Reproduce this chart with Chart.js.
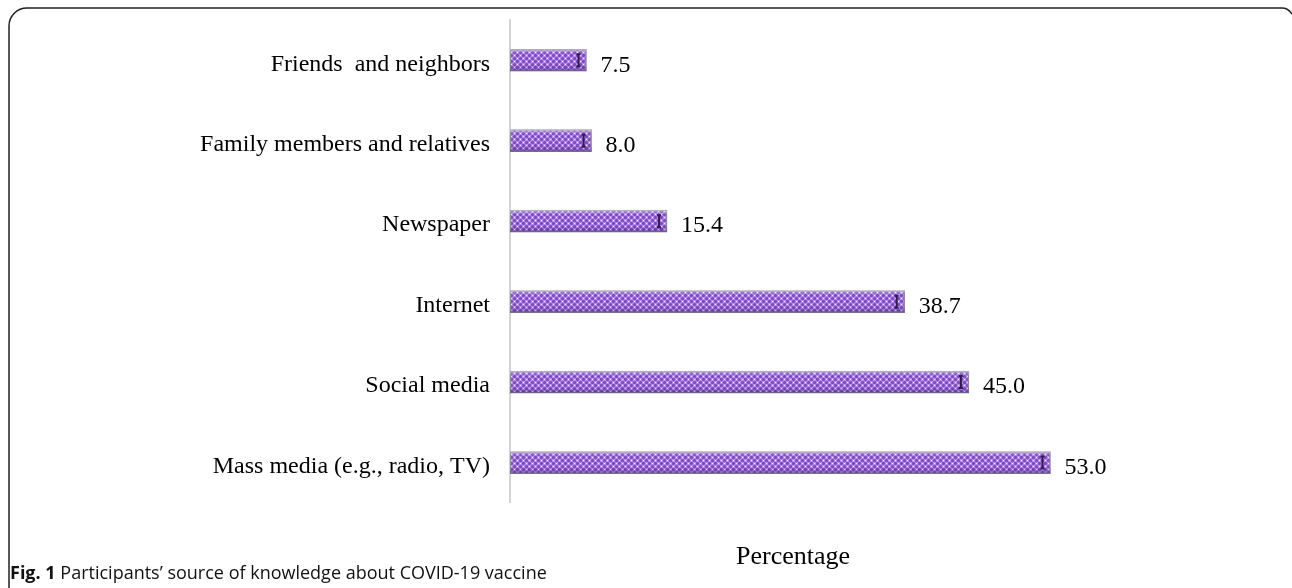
<!DOCTYPE html>
<html>
<head>
<meta charset="utf-8">
<script src="https://cdn.jsdelivr.net/npm/chart.js@4.4.1/dist/chart.umd.min.js"></script>
<style>
  html, body { margin: 0; padding: 0; background: #fff; }
  #wrap { position: relative; width: 1292px; height: 588px; }
  #caption {
    position: absolute; left: 10px; top: 560px;
    font-family: "Open Sans", "Noto Sans", sans-serif; font-size: 18px; color: #111;
    white-space: nowrap;
  }
</style>
</head>
<body>
<div id="wrap">
  <canvas id="chart" width="1292" height="588"></canvas>
  <div id="caption"><b>Fig. 1</b> Participants’ source of knowledge about COVID-19 vaccine</div>
</div>
<script>
// source of knowledge, top to bottom as drawn
const sources = [
  'Friends  and neighbors',
  'Family members and relatives',
  'Newspaper',
  'Internet',
  'Social media',
  'Mass media (e.g., radio, TV)'
];
const percentages = [7.5, 8.0, 15.4, 38.7, 45.0, 53.0];
const axisTitle = 'Percentage';

// little checkered purple fill like the original bevelled bars
function makePattern() {
  const c = document.createElement('canvas');
  c.width = 6; c.height = 6;
  const g = c.getContext('2d');
  g.fillStyle = '#b48ee3';
  g.fillRect(0, 0, 6, 6);
  g.fillStyle = '#7f48c8';
  g.beginPath(); g.arc(1.5, 1.5, 1.6, 0, Math.PI * 2); g.fill();
  g.beginPath(); g.arc(4.5, 4.5, 1.6, 0, Math.PI * 2); g.fill();
  g.fillStyle = '#f5eefc';
  g.fillRect(4, 1, 1, 1);
  g.fillRect(1, 4, 1, 1);
  return g.createPattern(c, 'repeat');
}

const serif = '"Liberation Serif", "Times New Roman", serif';

const framePlugin = {
  id: 'frame',
  beforeDraw(chart) {
    const ctx = chart.ctx;
    ctx.save();
    ctx.strokeStyle = '#222';
    ctx.lineWidth = 1.5;
    ctx.beginPath();
    ctx.moveTo(9, 588);
    ctx.lineTo(9, 26);
    ctx.arcTo(9, 8, 27, 8, 18);
    ctx.lineTo(1282, 8);
    ctx.quadraticCurveTo(1288, 8, 1292, 14);
    ctx.stroke();
    ctx.restore();
  }
};

const labelPlugin = {
  id: 'barLabels',
  afterDatasetsDraw(chart) {
    const ctx = chart.ctx;
    const meta = chart.getDatasetMeta(0);
    ctx.save();
    meta.data.forEach((bar, i) => {
      // bevel shading on top of pattern
      const top = bar.y - bar.height / 2;
      const grad = ctx.createLinearGradient(0, top, 0, top + bar.height);
      grad.addColorStop(0, 'rgba(255,255,255,0.4)');
      grad.addColorStop(0.2, 'rgba(255,255,255,0)');
      grad.addColorStop(0.7, 'rgba(60,20,110,0)');
      grad.addColorStop(1, 'rgba(60,20,110,0.4)');
      ctx.fillStyle = grad;
      ctx.fillRect(bar.base, top, bar.x - bar.base, bar.height);
      // small dark marker near the bar end
      ctx.strokeStyle = '#2e1f48';
      ctx.lineWidth = 2;
      const mx = bar.x - 8;
      ctx.beginPath();
      ctx.moveTo(mx, bar.y - 6); ctx.lineTo(mx, bar.y + 6);
      ctx.moveTo(mx - 2, bar.y - 6); ctx.lineTo(mx + 2, bar.y - 6);
      ctx.moveTo(mx - 2, bar.y + 6); ctx.lineTo(mx + 2, bar.y + 6);
      ctx.stroke();
      // value label
      ctx.fillStyle = '#000';
      ctx.font = '24px ' + serif;
      ctx.textAlign = 'left';
      ctx.textBaseline = 'middle';
      ctx.fillText(percentages[i].toFixed(1), bar.x + 14, bar.y + 5);
    });
    ctx.restore();
  }
};

new Chart(document.getElementById('chart').getContext('2d'), {
  type: 'bar',
  data: {
    labels: sources,
    datasets: [{
      data: percentages,
      backgroundColor: makePattern(),
      borderColor: '#8c8a9c',
      borderWidth: 1.5,
      borderSkipped: false,
      barThickness: 22
    }]
  },
  options: {
    indexAxis: 'y',
    responsive: false,
    animation: false,
    layout: { padding: { left: 0, right: 216, top: 20, bottom: 0 } },
    plugins: {
      legend: { display: false },
      tooltip: { enabled: false }
    },
    scales: {
      x: {
        min: 0,
        max: 55.5,
        grid: { display: false },
        border: { display: false },
        ticks: { display: false },
        title: {
          display: true,
          text: axisTitle,
          color: '#000',
          font: { family: serif, size: 26 },
          padding: { top: 31, bottom: 15 }
        }
      },
      y: {
        grid: { display: false, drawTicks: false },
        border: { display: true, color: '#d4d4d4', width: 2 },
        ticks: {
          color: '#000',
          font: { family: serif, size: 24 },
          padding: 20,
          labelOffset: 4
        },
        afterFit(scale) {
          scale.width = 510;
          scale.paddingTop = 0;
          scale.paddingBottom = 0;
        }
      }
    }
  },
  plugins: [framePlugin, labelPlugin]
});
</script>
</body>
</html>
